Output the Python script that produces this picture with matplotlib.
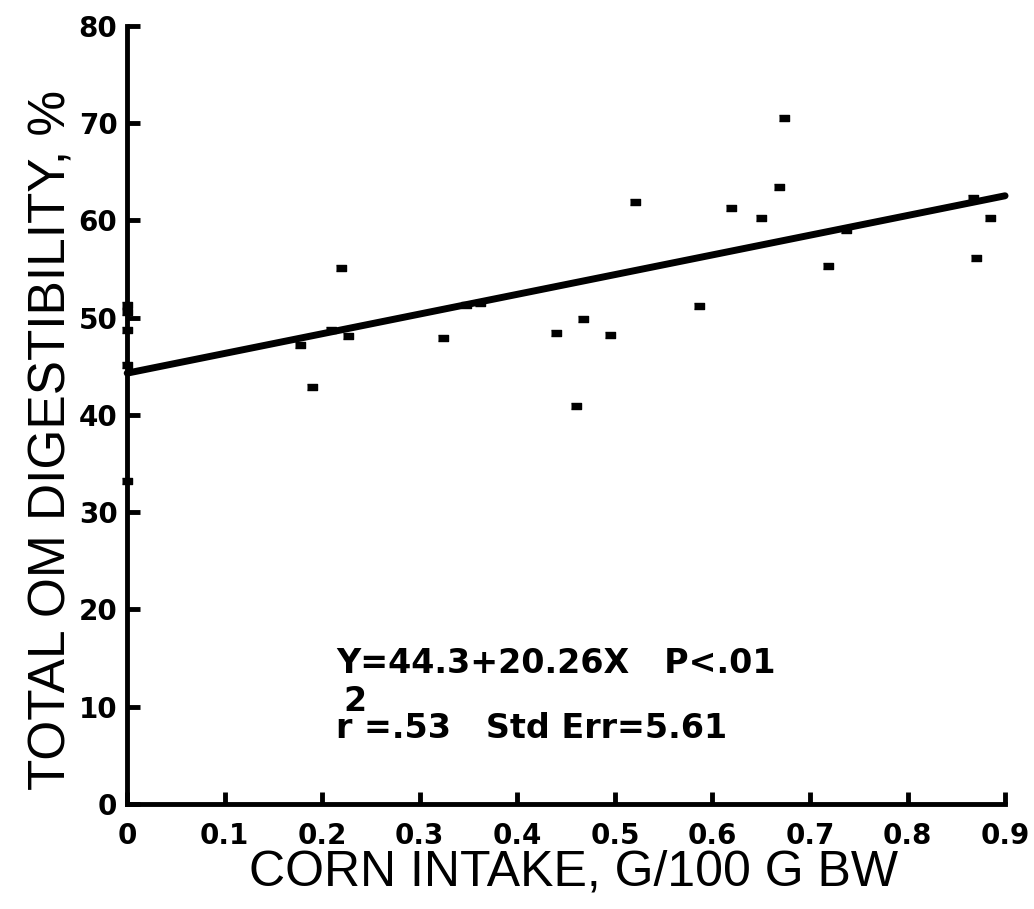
import matplotlib.pyplot as plt
import numpy as np

# corn intake (g/100 g BW) and total OM digestibility (%)
corn_intake = [0.0, 0.0, 0.0, 0.0, 0.0,
               0.177, 0.189, 0.209, 0.219, 0.226,
               0.324, 0.347, 0.362, 0.440, 0.460,
               0.467, 0.495, 0.521, 0.586, 0.619,
               0.650, 0.668, 0.673, 0.719, 0.737,
               0.867, 0.870, 0.885]
om_digest = [51.3, 50.6, 48.7, 45.1, 33.2,
             47.2, 42.9, 48.7, 55.1, 48.1,
             47.9, 51.3, 51.5, 48.4, 40.9,
             49.9, 48.2, 61.9, 51.2, 61.3,
             60.3, 63.4, 70.5, 55.3, 59.0,
             62.3, 56.1, 60.2]

intercept = 44.3
slope = 20.26

x_ticks = [0, 0.1, 0.2, 0.3, 0.4, 0.5, 0.6, 0.7, 0.8, 0.9]
x_labels = ['0', '0.1', '0.2', '0.3', '0.4', '0.5', '0.6', '0.7', '0.8', '0.9']
y_ticks = [0, 10, 20, 30, 40, 50, 60, 70, 80]

fig = plt.figure(figsize=(10.34, 9.09), dpi=100)
ax = fig.add_axes([0.123, 0.1155, 0.849, 0.856])

# small flat rectangles like the original dots
rect = [(-1.6, -1), (1.6, -1), (1.6, 1), (-1.6, 1)]
ax.plot(corn_intake, om_digest, linestyle='none', marker=rect,
        markersize=6.5, color='black', clip_on=False, zorder=3)

xfit = np.array([0, 0.9])
ax.plot(xfit, intercept + slope * xfit, color='black', linewidth=5,
        solid_capstyle='round', clip_on=False)

ax.set_xlim(0, 0.9)
ax.set_ylim(0, 80)
ax.set_xticks(x_ticks)
ax.set_xticklabels(x_labels)
ax.set_yticks(y_ticks)

for side in ['top', 'right']:
    ax.spines[side].set_visible(False)
for side in ['left', 'bottom']:
    ax.spines[side].set_linewidth(3.5)

ax.tick_params(axis='both', direction='in', length=9, width=3.5,
               labelsize=20)
ax.tick_params(axis='x', pad=13)
ax.tick_params(axis='y', pad=7)
for lab in ax.get_xticklabels() + ax.get_yticklabels():
    lab.set_fontweight('bold')
    lab.set_family('DejaVu Sans')

lab_font = ['Liberation Sans Narrow', 'Liberation Sans']
ax.set_xlabel('CORN INTAKE, G/100 G BW', fontsize=36, family=lab_font)
ax.set_ylabel('TOTAL OM DIGESTIBILITY, %', fontsize=37, family=lab_font)
ax.xaxis.set_label_coords(0.508, -0.059)
ax.yaxis.set_label_coords(-0.058, 0.468)

ax.text(0.214, 13.5, 'Y=44.3+20.26X   P<.01', fontsize=24,
        fontweight='bold', family='DejaVu Sans', va='baseline')
ax.text(0.214, 6.8, 'r =.53   Std Err=5.61', fontsize=24,
        fontweight='bold', family='DejaVu Sans', va='baseline')
ax.text(0.222, 9.6, '2', fontsize=24, fontweight='bold',
        family='DejaVu Sans', va='baseline')

plt.savefig('out.png', dpi=100)
